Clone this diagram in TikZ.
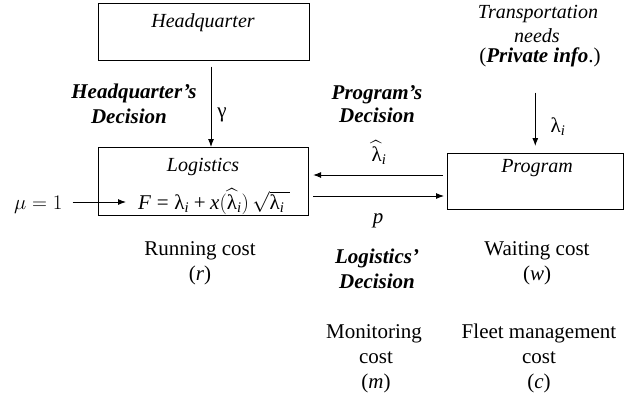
\documentclass[tikz,border=0pt]{standalone}
\usepackage{amsmath}
\usepackage{fontspec}
\setmainfont{Liberation Serif}
\usetikzlibrary{arrows.meta,calc}
\tikzset{
  box/.style={draw, line width=1.1pt, inner sep=0pt, anchor=north west},
  txt/.style={font=\fontsize{21}{25}\selectfont, inner sep=0pt, anchor=base},
  itl/.style={font=\fontsize{20}{23}\selectfont\itshape, inner sep=0pt, anchor=base},
  bi/.style={font=\fontsize{21}{25}\selectfont\bfseries\itshape, inner sep=0pt, anchor=base},
  arr/.style={line width=0.9pt, -{Latex[length=8pt,width=6pt]}},
}
\begin{document}
\begin{tikzpicture}[x=1pt,y=-1pt]
\useasboundingbox (0,0) rectangle (624,400);
% boxes
\node[box, minimum width=211pt, minimum height=57pt] (hq) at (98,2.5) {};
\node[box, minimum width=210pt, minimum height=68pt] (log) at (98,147) {};
\node[box, minimum width=175.5pt, minimum height=56pt] (prog) at (447,153) {};
% box texts
\node[itl] (hqt) at (203,27) {Headquarter};
\node[itl] (logt) at (203,171) {Logistics};
\node[itl] (progt) at (537,172) {Program};
\node[txt, anchor=base west] (eq) at (138,209)
  {$\textit{F} \mathrel{\text{=}} \text{λ}_{\textit{i}} \mathbin{\text{+}} \textit{x}(\widehat{\text{λ}}_{\textit{i}})\,\sqrt{\text{λ}_{\textit{i}}\hspace{5pt}}$};
\node[txt, anchor=base west] (mu) at (14,209) {$\mu = 1$};
% decisions
\node[bi] (hqd1) at (134,98) {Headquarter’s};
\node[bi] (hqd2) at (129,123) {Decision};
\node[txt] (gam) at (222,117) {γ};
\node[bi] (pgd1) at (377,99) {Program’s};
\node[bi] (pgd2) at (377,122) {Decision};
\node[txt] (lhat) at (379,161) {$\widehat{\text{λ}}_{\textit{i}}$};
\node[itl] (tr1) at (538,18) {Transportation};
\node[itl] (tr2) at (537,42) {needs};
\node[txt] (pinfo) at (540,62) {(\textbf{\textit{Private info}}.)};
\node[txt] (lam) at (558,132) {λ$_{\textit{i}}$};
\node[txt] (p) at (378,223) {\textit{p}};
% costs
\node[txt] (rc1) at (200,255) {Running cost};
\node[txt] (rc2) at (200,280) {(\textit{r})};
\node[bi] (lgd1) at (377,263) {Logistics’};
\node[bi] (lgd2) at (377,288) {Decision};
\node[txt] (wc1) at (537,255) {Waiting cost};
\node[txt] (wc2) at (537,280) {(\textit{w})};
\node[txt] (mc1) at (374,338) {Monitoring};
\node[txt] (mc2) at (376,363) {cost};
\node[txt] (mc3) at (376,388) {(\textit{m})};
\node[txt] (fc1) at (539,338) {Fleet management};
\node[txt] (fc2) at (539,363) {cost};
\node[txt] (fc3) at (539,388) {(\textit{c})};
% connectors
\draw[arr, shorten <=6pt] ($(hq.south west)+(113,0)$) -- ($(log.north west)+(113,0)$);
\draw[arr] ($(mu.base east)+(10,-7)$) -- ($(eq.base west)+(-12,-7)$);
\draw[arr, shorten <=4pt, shorten >=4pt] ($(prog.north west)+(0,22)$) -- ($(log.north east)+(0,28)$);
\draw[arr, shorten <=4pt, shorten >=3pt] ($(log.north east)+(0,49)$) -- ($(prog.north west)+(0,43)$);
\draw[arr, shorten <=26pt, shorten >=7pt] (pinfo.south -| prog.north) -- (prog.north);
\end{tikzpicture}
\end{document}
